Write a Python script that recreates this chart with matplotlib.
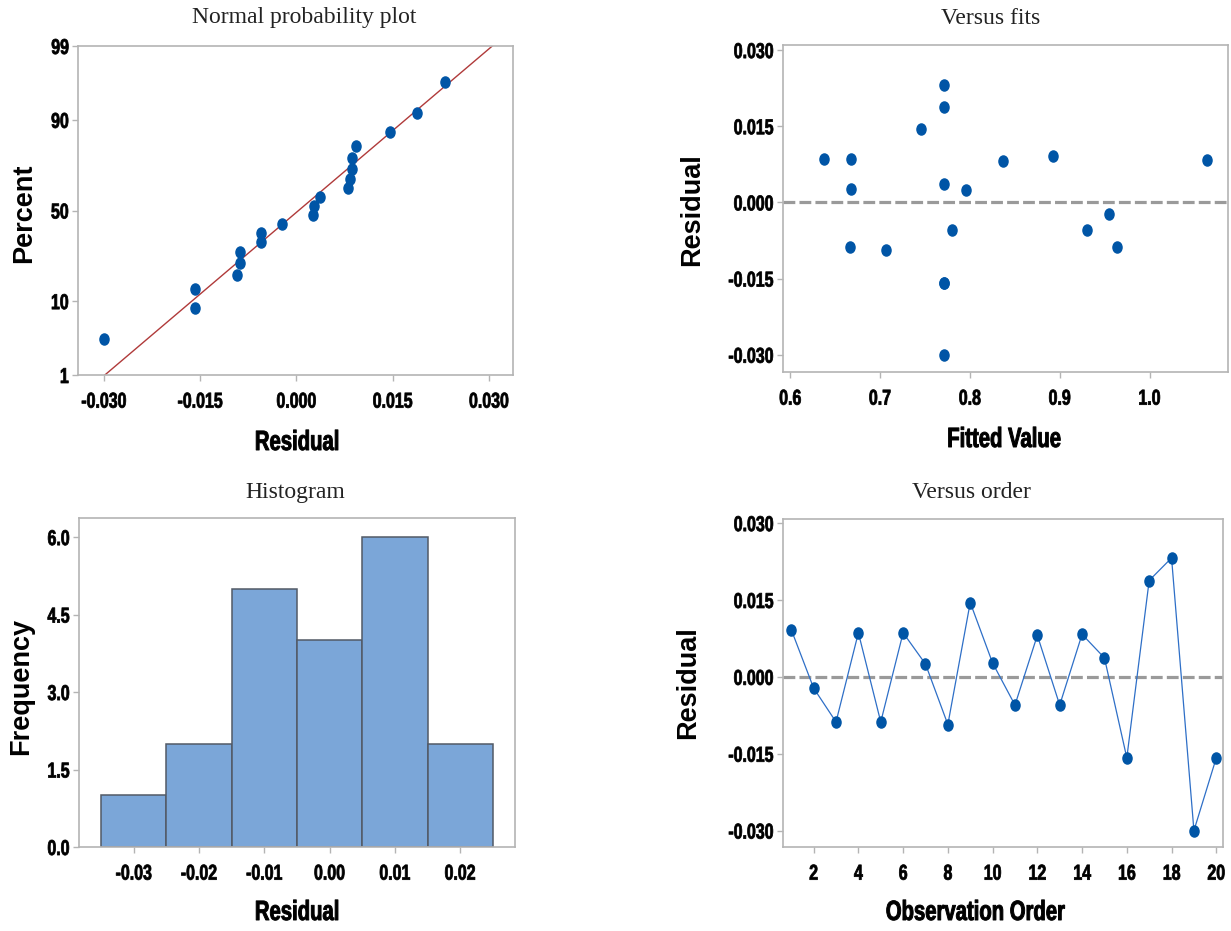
import matplotlib
matplotlib.use("Agg")
import matplotlib.pyplot as plt
import numpy as np
from statistics import NormalDist
from matplotlib.path import Path
from matplotlib.transforms import Affine2D
from matplotlib.patheffects import AbstractPathEffect

# ---------------- data ----------------
observation = list(range(1, 21))
residuals = [0.0092, -0.0022, -0.0088, 0.0086, -0.0088, 0.0086, 0.0025, -0.0093,
             0.0145, 0.0027, -0.0055, 0.0081, -0.0055, 0.0083, 0.0037, -0.0158,
             0.0188, 0.0232, -0.0300, -0.0158]
fitted = [0.892, 0.955, 0.666, 0.638, 0.964, 0.668, 0.796, 0.707,
          0.746, 0.668, 0.780, 0.837, 0.930, 1.064, 0.771, 0.771,
          0.771, 0.771, 0.771, 0.771]
hist_edges = [-0.035, -0.025, -0.015, -0.005, 0.005, 0.015, 0.025]
prob_ticks = [1, 10, 50, 90, 99]
resid_ticks = [-0.030, -0.015, 0.000, 0.015, 0.030]
fit_ticks = [0.6, 0.7, 0.8, 0.9, 1.0]
hist_xticks = [-0.03, -0.02, -0.01, 0.00, 0.01, 0.02]
hist_yticks = [0.0, 1.5, 3.0, 4.5, 6.0]
order_ticks = list(range(2, 21, 2))

# ---------------- style ----------------
plt.rcParams['axes.unicode_minus'] = False
plt.rcParams['lines.scale_dashes'] = False


class Condense(AbstractPathEffect):
    """Horizontally squeeze (and slightly embolden) a text path to mimic a
    bold condensed typeface."""
    def __init__(self, sx=0.75, anchor='center', stroke=0.0):
        super().__init__()
        self.sx = sx
        self.anchor = anchor
        self.stroke = stroke

    def draw_path(self, renderer, gc, tpath, affine, rgbFace=None):
        v = affine.transform(tpath.vertices)
        if tpath.codes is not None:
            m = tpath.codes != Path.CLOSEPOLY
            if m.any():
                v = v[m]
        if len(v):
            if self.anchor == 'right':
                cx = v[:, 0].max()
            elif self.anchor == 'left':
                cx = v[:, 0].min()
            else:
                cx = 0.5 * (v[:, 0].min() + v[:, 0].max())
        else:
            cx = 0
        new = affine + Affine2D().translate(-cx, 0).scale(self.sx, 1).translate(cx, 0)
        if self.stroke > 0 and rgbFace is not None:
            gc0 = renderer.new_gc()
            gc0.copy_properties(gc)
            gc0.set_linewidth(self.stroke)
            gc0.set_foreground(rgbFace)
            gc0.set_joinstyle('round')
            renderer.draw_path(gc0, tpath, new, rgbFace)
            gc0.restore()
        else:
            renderer.draw_path(gc, tpath, new, rgbFace)


TICK_SIZE = 15.5
TICK_SX = 0.74
TICK_STROKE = 0.55
xlab_font = dict(family='Liberation Sans', weight='bold', size=20)
ylab_font = dict(family='Liberation Sans', weight='bold', size=19.5)
title_font = dict(family='Liberation Serif', size=17, color='#222222')

spine_c = '#b4b4b4'
mark_c = '#0055a6'
line_c = '#2e6fc7'

ell = Path.unit_circle()
ell = Path(ell.vertices * np.array([0.82, 1.0]), ell.codes)

W, H = 1231, 931
fig = plt.figure(figsize=(W / 100, H / 100), dpi=100)


def make_ax(x0, y0, x1, y1):
    ax = fig.add_axes([x0 / W, 1 - y1 / H, (x1 - x0) / W, (y1 - y0) / H])
    for s in ax.spines.values():
        s.set_color(spine_c)
        s.set_linewidth(1.2)
    ax.tick_params(direction='out', length=4, width=1, color=spine_c)
    ax.tick_params(axis='y', pad=2.5)
    ax.tick_params(axis='x', pad=8)
    return ax


def style_ticks(ax):
    for lab in ax.get_xticklabels():
        lab.set_fontfamily('Liberation Sans')
        lab.set_fontweight('bold')
        lab.set_fontsize(TICK_SIZE)
        lab.set_path_effects([Condense(TICK_SX, 'center', TICK_STROKE)])
    for lab in ax.get_yticklabels():
        lab.set_fontfamily('Liberation Sans')
        lab.set_fontweight('bold')
        lab.set_fontsize(TICK_SIZE)
        lab.set_path_effects([Condense(TICK_SX, 'right', TICK_STROKE)])


# ---------- Normal probability plot ----------
ax1 = make_ax(78, 46, 513, 375)
nd = NormalDist()
srt = np.sort(residuals)
n = len(srt)
pp = [(i - 0.3) / (n + 0.4) for i in range(1, n + 1)]
zz = [nd.inv_cdf(p) for p in pp]
mu = float(np.mean(residuals))
sd = float(np.std(residuals, ddof=1))
zl = np.linspace(nd.inv_cdf(0.01), nd.inv_cdf(0.99), 200)
ax1.plot(mu + sd * zl, zl, color='#b03a3a', lw=1.0, zorder=2)
ax1.plot(srt, zz, linestyle='none', marker=ell, ms=8, color=mark_c, zorder=3)
ax1.set_ylim(nd.inv_cdf(0.01), nd.inv_cdf(0.99))
ax1.set_xlim(-0.03405, 0.03374)
ax1.set_yticks([nd.inv_cdf(p / 100) for p in prob_ticks])
ax1.set_yticklabels([str(p) for p in prob_ticks])
ax1.set_xticks(resid_ticks)
ax1.set_xticklabels(['%.3f' % v for v in resid_ticks])
style_ticks(ax1)

# ---------- Versus fits ----------
ax2 = make_ax(783, 45, 1228, 372)
ax2.axhline(0, color='#9a9a9a', lw=2.3, dashes=(8.5, 3.0), zorder=1)
ax2.plot(fitted, residuals, linestyle='none', marker=ell, ms=8, color=mark_c, zorder=3)
ax2.set_xlim(0.5919, 1.0874)
ax2.set_ylim(-0.0334, 0.0310)
ax2.set_xticks(fit_ticks)
ax2.set_xticklabels(['%.1f' % v for v in fit_ticks])
ax2.set_yticks(resid_ticks)
ax2.set_yticklabels(['%.3f' % v for v in resid_ticks])
style_ticks(ax2)

# ---------- Histogram ----------
ax3 = make_ax(79, 518, 515, 847)
ax3.hist(residuals, bins=hist_edges, color='#7ba6d8', edgecolor='#525a66', linewidth=1.1, zorder=2)
ax3.set_xlim(-0.0384, 0.0284)
ax3.set_ylim(0, 6.37)
ax3.set_xticks(hist_xticks)
ax3.set_xticklabels(['%.2f' % v for v in hist_xticks])
ax3.set_yticks(hist_yticks)
ax3.set_yticklabels(['%.1f' % v for v in hist_yticks])
style_ticks(ax3)

# ---------- Versus order ----------
ax4 = make_ax(783, 519, 1223, 847)
ax4.axhline(0, color='#9a9a9a', lw=2.3, dashes=(8.5, 3.0), zorder=1)
ax4.plot(observation, residuals, color=line_c, lw=0.9, zorder=2)
ax4.plot(observation, residuals, linestyle='none', marker=ell, ms=8, color=mark_c, zorder=3)
ax4.set_xlim(0.63, 20.3)
ax4.set_ylim(-0.0332, 0.0308)
ax4.set_xticks(order_ticks)
ax4.set_xticklabels([str(v) for v in order_ticks])
ax4.set_yticks(resid_ticks)
ax4.set_yticklabels(['%.3f' % v for v in resid_ticks])
style_ticks(ax4)

# ---------- titles and labels (figure coords) ----------
def ftext(x, y, s, rot=0, condense=None, stroke=0.0, **kw):
    t = fig.text(x / W, 1 - y / H, s, ha='center', va='center', rotation=rot, **kw)
    if condense:
        t.set_path_effects([Condense(condense, 'center', stroke)])
    return t

ftext(304, 18, 'Normal probability plot', **title_font)
ftext(991, 18, 'Versus fits', **title_font)
ftext(295, 493, 'Histogram', **title_font)
ftext(971, 493, 'Versus order', **title_font)

ftext(297, 443, 'Residual', condense=0.73, stroke=0.7, **xlab_font)
ftext(1004, 440, 'Fitted Value', condense=0.73, stroke=0.7, **xlab_font)
ftext(297, 913, 'Residual', condense=0.73, stroke=0.7, **xlab_font)
ftext(975, 913, 'Observation Order', condense=0.73, stroke=0.7, **xlab_font)

ftext(24, 213, 'Percent', rot=90, **ylab_font)
ftext(692, 210, 'Residual', rot=90, **ylab_font)
ftext(21, 686, 'Frequency', rot=90, **ylab_font)
ftext(688, 683, 'Residual', rot=90, **ylab_font)

fig.savefig('out.png', dpi=100)
